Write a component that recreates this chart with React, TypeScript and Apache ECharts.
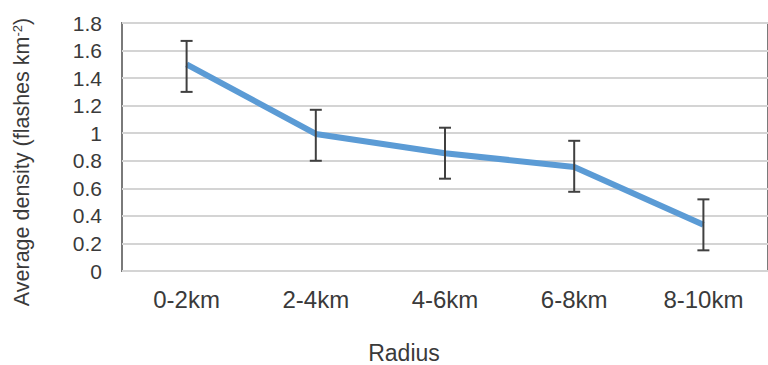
import React, { useEffect, useRef } from "react";
import * as echarts from "echarts";

const categories = ["0-2km", "2-4km", "4-6km", "6-8km", "8-10km"];
const meanDensity = [1.5, 0.995, 0.855, 0.755, 0.335];
const errUpper = [1.67, 1.17, 1.04, 0.945, 0.52];
const errLower = [1.3, 0.8, 0.67, 0.575, 0.15];
const yTicks = { min: 0, max: 1.8, interval: 0.2 };

export default function App() {
  const ref = useRef<HTMLDivElement>(null);
  useEffect(() => {
    const chart = echarts.init(ref.current!, null, { renderer: "svg" });
    const font = "Liberation Sans";
    const txt = "#3a3a3a";
    chart.setOption({
      animation: false,
      backgroundColor: "#ffffff",
      grid: {
        left: 122,
        top: 23,
        bottom: 94,
        right: -12,
        show: true,
        borderColor: "#7a7a7a",
        borderWidth: 2,
      },
      xAxis: {
        type: "category",
        data: categories,
        boundaryGap: true,
        axisLine: { show: false },
        axisTick: { show: false },
        axisLabel: { color: txt, fontFamily: font, fontSize: 24, margin: 16 },
      },
      yAxis: {
        type: "value",
        min: yTicks.min,
        max: yTicks.max,
        interval: yTicks.interval,
        axisLine: { show: false },
        axisTick: { show: false },
        axisLabel: { color: txt, fontFamily: font, fontSize: 21, margin: 20 },
        splitLine: { lineStyle: { color: "#d4d4d4", width: 2 } },
      },
      graphic: [
        {
          type: "text",
          x: 22,
          y: 162,
          rotation: Math.PI / 2,
          style: {
            text: "Average density {n|(flashes km}{s|-2}{n|)}",
            fontFamily: font,
            fontSize: 21.5,
            fill: txt,
            align: "center",
            verticalAlign: "middle",
            rich: {
              n: { fontFamily: font, fontSize: 21.5, fill: txt },
              s: { fontFamily: font, fontSize: 13, fill: txt, verticalAlign: "top", padding: [0, 0, 10, 0] },
            },
          },
        },
        {
          type: "text",
          x: 404,
          y: 353,
          style: {
            text: "Radius",
            fontFamily: font,
            fontSize: 23,
            lineHeight: 20,
            fill: txt,
            align: "center",
            verticalAlign: "middle",
          },
        },
      ],
      series: [
        {
          type: "line",
          data: meanDensity,
          showSymbol: false,
          symbol: "none",
          lineStyle: { color: "#5b9bd5", width: 6 },
          z: 3,
        },
        {
          type: "custom",
          data: categories.map((_, i) => [i, errLower[i], errUpper[i]]),
          z: 4,
          renderItem: (params: any, api: any) => {
            const lo = api.coord([api.value(0), api.value(1)]);
            const hi = api.coord([api.value(0), api.value(2)]);
            const w = 6;
            const style = { stroke: "#404040", lineWidth: 2 };
            return {
              type: "group",
              children: [
                { type: "line", shape: { x1: lo[0], y1: lo[1], x2: hi[0], y2: hi[1] }, style },
                { type: "line", shape: { x1: hi[0] - w, y1: hi[1], x2: hi[0] + w, y2: hi[1] }, style },
                { type: "line", shape: { x1: lo[0] - w, y1: lo[1], x2: lo[0] + w, y2: lo[1] }, style },
              ],
            };
          },
        },
      ],
    });
    return () => chart.dispose();
  }, []);
  return (
    <div
      ref={ref}
      style={{ position: "absolute", left: 0, top: 0, width: 768, height: 365 }}
    />
  );
}
